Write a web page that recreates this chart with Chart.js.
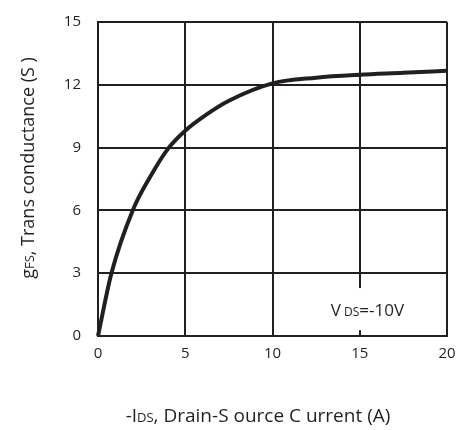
<!DOCTYPE html>
<html>
<head>
<meta charset="utf-8">
<script src="https://cdn.jsdelivr.net/npm/chart.js@4/dist/chart.umd.min.js"></script>
<style>
  html, body { margin: 0; padding: 0; background: #fff; }
  #wrap { width: 456px; height: 430px; }
</style>
</head>
<body>
<div id="wrap"><canvas id="c" width="456" height="430"></canvas></div>
<script>
// -IDS (A) vs gFS (S)
var iDs = [0, 0.77, 1.99, 3, 4.06, 5, 6.25, 7.5, 10, 12.5, 15, 17.5, 20];
var gFs = [0, 3, 6, 7.62, 9, 9.81, 10.6, 11.24, 12.07, 12.34, 12.48, 12.57, 12.67];
var xTicks = [0, 5, 10, 15, 20];
var yTicks = [0, 3, 6, 9, 12, 15];

var INK = '#231f20';
var FONT = '"Open Sans", sans-serif';

// draws text runs like [['-I',1],['DS',0.7]] sharing one baseline
function richText(ctx, runs, size, x, y, align) {
  var total = 0;
  runs.forEach(function (r) {
    ctx.font = Math.round(size * r[1]) + 'px ' + FONT;
    total += ctx.measureText(r[0]).width;
  });
  var cx = align === 'center' ? x - total / 2 : x;
  ctx.textAlign = 'left';
  ctx.textBaseline = 'alphabetic';
  runs.forEach(function (r) {
    ctx.font = Math.round(size * r[1]) + 'px ' + FONT;
    ctx.fillText(r[0], cx, y);
    cx += ctx.measureText(r[0]).width;
  });
}

var labels = {
  id: 'labels',
  afterDatasetsDraw: function (chart) {
    var ctx = chart.ctx;
    var xs = chart.scales.x, ys = chart.scales.y;
    ctx.save();
    ctx.fillStyle = INK;

    // x title
    richText(ctx, [['-I', 1], ['DS', 0.72], [', Drain-S ource C urrent (A)', 1]], 18.5, 258, 422, 'center');

    // y title (rotated)
    ctx.save();
    ctx.translate(34, 168);
    ctx.rotate(-Math.PI / 2);
    richText(ctx, [['g', 1], ['FS', 0.72], [', Trans conductance (S )', 1]], 18, 0, 0, 'center');
    ctx.restore();

    // VDS annotation with white backing
    var ax = xs.getPixelForValue(15), ay = ys.getPixelForValue(1);
    ctx.fillStyle = '#fff';
    ctx.fillRect(ax - 36, ay - 27, 86, 42);
    ctx.fillStyle = INK;
    richText(ctx, [['V', 1], [' DS', 0.72], ['=-10V', 1]], 16.5, ax - 29, ay + 1, 'left');
    ctx.restore();
  }
};

new Chart(document.getElementById('c'), {
  type: 'scatter',
  data: {
    datasets: [{
      data: iDs.map(function (x, i) { return { x: x, y: gFs[i] }; }),
      showLine: true,
      borderColor: INK,
      borderWidth: 4,
      pointRadius: 0,
      cubicInterpolationMode: 'monotone',
      clip: false
    }]
  },
  options: {
    responsive: false,
    animation: false,
    layout: { padding: { top: 22, right: 9, left: 0, bottom: 0 } },
    plugins: { legend: { display: false }, tooltip: { enabled: false } },
    scales: {
      x: {
        type: 'linear', min: 0, max: 20,
        afterBuildTicks: function (s) { s.ticks = xTicks.map(function (v) { return { value: v }; }); },
        afterFit: function (s) { s.height = 94; s.paddingLeft = 0; s.paddingRight = 0; },
        grid: { color: INK, lineWidth: 2, drawTicks: false },
        border: { color: INK, width: 2 },
        ticks: { color: INK, font: { family: FONT, size: 15 }, padding: 9 }
      },
      y: {
        min: 0, max: 15,
        afterBuildTicks: function (s) { s.ticks = yTicks.map(function (v) { return { value: v }; }); },
        afterFit: function (s) { s.width = 98; s.paddingTop = 0; s.paddingBottom = 0; },
        grid: { color: INK, lineWidth: 2, drawTicks: false },
        border: { color: INK, width: 2 },
        ticks: { color: INK, font: { family: FONT, size: 15 }, padding: 17 }
      }
    }
  },
  plugins: [labels]
});
</script>
</body>
</html>
